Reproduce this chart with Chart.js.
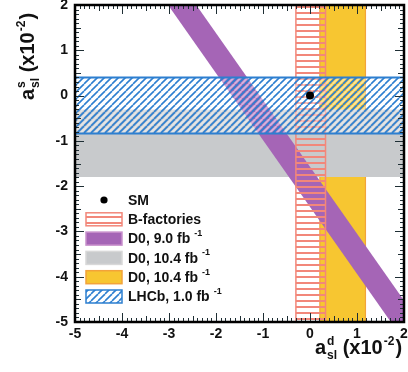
<!DOCTYPE html>
<html>
<head>
<meta charset="utf-8">
<script src="https://cdn.jsdelivr.net/npm/chart.js@4.4.1/dist/chart.umd.min.js"></script>
<style>
html, body { margin: 0; padding: 0; background: #fff; }
#caixa { width: 408px; height: 372px; position: relative; }
</style>
</head>
<body>
<div id="caixa"><canvas id="grafico"></canvas></div>
<script>
const eixoX = [-5, 2];
const eixoY = [-5, 2];
const smPonto = [{x: 0, y: 0}];
const bFactoriesX = [-0.30, 0.33];
const d0AmareloX = [0.21, 1.18];
const d0CinzaY = [-1.80, -0.31];
const lhcbY = [-0.84, 0.40];
// bordas da faixa roxa (D0 9.0 fb-1)
const d0RoxoEsq = [{x: -3.02, y: 2}, {x: 1.72, y: -5}];
const d0RoxoDir = [{x: -2.42, y: 2}, {x: 2.32, y: -5}];
const nomes = ['SM', 'B-factories', 'D0, 9.0 fb', 'D0, 10.4 fb', 'D0, 10.4 fb', 'LHCb, 1.0 fb'];
const expoentes = ['', '', '-1', '-1', '-1', '-1'];

const fonte = '"Liberation Sans", Arial, sans-serif';
const $grafico = document.getElementById('grafico');
const ctxBase = $grafico.getContext('2d');

function faixaVertical(x) {
    return [
        {x: x[0], y: eixoY[0]}, {x: x[0], y: eixoY[1]},
        {x: x[1], y: eixoY[1]}, {x: x[1], y: eixoY[0]},
        {x: x[0], y: eixoY[0]}
    ];
}

function faixaHorizontal(y) {
    return [
        {x: eixoX[0], y: y[0]}, {x: eixoX[0], y: y[1]},
        {x: eixoX[1], y: y[1]}, {x: eixoX[1], y: y[0]},
        {x: eixoX[0], y: y[0]}
    ];
}

function hachuraHorizontal(cor) {
    const c = document.createElement('canvas');
    c.width = 6; c.height = 6;
    const g = c.getContext('2d');
    g.fillStyle = cor;
    g.fillRect(0, 0, 6, 2);
    return ctxBase.createPattern(c, 'repeat');
}

function hachuraDiagonal(cor) {
    const n = 7;
    const c = document.createElement('canvas');
    c.width = n; c.height = n;
    const g = c.getContext('2d');
    g.lineWidth = 2;
    g.strokeStyle = 'rgba(255,255,255,0.5)';
    for (let k = -1; k <= 1; k++) {
        g.beginPath();
        g.moveTo(k * n + n / 2, n);
        g.lineTo(k * n + n / 2 + n, 0);
        g.stroke();
    }
    g.lineWidth = 1.6;
    g.strokeStyle = cor;
    for (let k = -1; k <= 1; k++) {
        g.beginPath();
        g.moveTo(k * n, n);
        g.lineTo(k * n + n, 0);
        g.stroke();
    }
    return ctxBase.createPattern(c, 'repeat');
}

const salmao = '#f2877a';
const azul = '#2d7fd0';

const moldura = {
    id: 'moldura',
    afterDatasetsDraw(chart) {
        const {ctx, chartArea: a, scales: {x, y}} = chart;
        ctx.save();
        ctx.strokeStyle = '#1e2e34';
        ctx.lineWidth = 1;
        ctx.beginPath();
        for (let i = eixoX[0] * 10; i <= eixoX[1] * 10; i++) {
            const px = Math.round(x.getPixelForValue(i / 10)) + 0.5;
            const len = i % 10 === 0 ? 9 : (Math.abs(i % 5) === 0 ? 6 : 4);
            ctx.moveTo(px, a.bottom); ctx.lineTo(px, a.bottom - len);
            ctx.moveTo(px, a.top); ctx.lineTo(px, a.top + len);
        }
        for (let i = eixoY[0] * 10; i <= eixoY[1] * 10; i++) {
            const py = Math.round(y.getPixelForValue(i / 10)) + 0.5;
            const len = i % 10 === 0 ? 9 : (Math.abs(i % 5) === 0 ? 6 : 4);
            ctx.moveTo(a.left, py); ctx.lineTo(a.left + len, py);
            ctx.moveTo(a.right, py); ctx.lineTo(a.right - len, py);
        }
        ctx.stroke();
        ctx.lineWidth = 2.5;
        ctx.strokeStyle = '#000';
        ctx.strokeRect(a.left, a.top, a.right - a.left, a.bottom - a.top);

        // legenda
        const ds = chart.data.datasets;
        ctx.textBaseline = 'middle';
        ctx.textAlign = 'left';
        for (let i = 0; i < ds.length; i++) {
            const cy = 200 + i * 19.3;
            const bx = 86, bw = 36, bh = 13;
            if (i === 0) {
                ctx.fillStyle = '#000';
                ctx.beginPath();
                ctx.arc(bx + bw / 2, cy, 3.6, 0, Math.PI * 2);
                ctx.fill();
            } else {
                ctx.fillStyle = '#fff';
                ctx.fillRect(bx, cy - bh / 2, bw, bh);
                ctx.fillStyle = ds[i].backgroundColor;
                ctx.fillRect(bx, cy - bh / 2, bw, bh);
                ctx.lineWidth = 1.5;
                ctx.strokeStyle = ds[i].borderWidth ? ds[i].borderColor : ds[i].legendBorda;
                ctx.strokeRect(bx, cy - bh / 2, bw, bh);
            }
            ctx.fillStyle = '#111';
            ctx.font = 'bold 14px ' + fonte;
            ctx.fillText(nomes[i], 128, cy + 1);
            if (expoentes[i]) {
                const w = ctx.measureText(nomes[i]).width;
                ctx.font = 'bold 9px ' + fonte;
                ctx.fillText(expoentes[i], 128 + w + 4, cy - 5);
            }
        }

        // titulos dos eixos
        tituloEixo(ctx, 315, 354, 'd');
        ctx.translate(34, 100);
        ctx.rotate(-Math.PI / 2);
        tituloEixo(ctx, 0, 0, 's');
        ctx.restore();
    }
};

function tituloEixo(ctx, x0, y0, sup) {
    ctx.save();
    ctx.fillStyle = '#111';
    ctx.textBaseline = 'alphabetic';
    ctx.textAlign = 'left';
    ctx.font = 'bold 20px ' + fonte;
    ctx.fillText('a', x0, y0);
    let w = ctx.measureText('a').width + 1;
    ctx.font = 'bold 12px ' + fonte;
    ctx.fillText(sup, x0 + w, y0 - 9);
    ctx.fillText('sl', x0 + w, y0 + 5);
    w += Math.max(ctx.measureText(sup).width, ctx.measureText('sl').width);
    ctx.font = 'bold 20px ' + fonte;
    ctx.fillText(' (x10', x0 + w, y0);
    w += ctx.measureText(' (x10').width + 1;
    ctx.font = 'bold 12px ' + fonte;
    ctx.fillText('-2', x0 + w, y0 - 9);
    w += ctx.measureText('-2').width + 1;
    ctx.font = 'bold 20px ' + fonte;
    ctx.fillText(')', x0 + w, y0);
    ctx.restore();
}

const graficoAssimetria = new Chart($grafico, {
    type: 'line',
    data: {
        datasets: [
            {
                label: nomes[0],
                data: smPonto,
                showLine: false,
                pointRadius: 4,
                pointBackgroundColor: '#000',
                pointBorderWidth: 0,
                order: 0
            },
            {
                label: nomes[1],
                data: faixaVertical(bFactoriesX),
                backgroundColor: hachuraHorizontal(salmao),
                borderColor: salmao,
                borderWidth: 1.5,
                fill: 'shape',
                pointRadius: 0,
                order: 2
            },
            {
                label: nomes[2],
                data: [...d0RoxoEsq, ...d0RoxoDir.slice().reverse(), d0RoxoEsq[0]],
                backgroundColor: '#a565b6',
                legendBorda: '#c890cc',
                borderWidth: 0,
                fill: 'shape',
                pointRadius: 0,
                order: 3
            },
            {
                label: nomes[3],
                data: faixaHorizontal(d0CinzaY),
                backgroundColor: '#c8cacc',
                legendBorda: '#d8d8d8',
                borderWidth: 0,
                fill: 'shape',
                pointRadius: 0,
                order: 4
            },
            {
                label: nomes[4],
                data: faixaVertical(d0AmareloX),
                backgroundColor: '#f7c631',
                borderColor: '#f2a33a',
                borderWidth: 1.2,
                fill: 'shape',
                pointRadius: 0,
                order: 5
            },
            {
                label: nomes[5],
                data: faixaHorizontal(lhcbY),
                backgroundColor: hachuraDiagonal(azul),
                borderColor: azul,
                borderWidth: 2,
                fill: 'shape',
                pointRadius: 0,
                order: 1
            }
        ]
    },
    options: {
        responsive: true,
        maintainAspectRatio: false,
        animation: false,
        layout: { padding: { top: 5, right: 1, left: 0, bottom: 0 } },
        plugins: { legend: { display: false }, tooltip: { enabled: false } },
        scales: {
            x: {
                type: 'linear',
                min: eixoX[0],
                max: eixoX[1],
                afterFit: (s) => { s.height = 50; s.paddingLeft = 0; s.paddingRight = 0; },
                grid: { display: false, drawTicks: false },
                border: { display: false },
                ticks: { stepSize: 1, padding: 4, color: '#111', font: { family: fonte, size: 14, weight: 'bold' } }
            },
            y: {
                type: 'linear',
                min: eixoY[0],
                max: eixoY[1],
                afterFit: (s) => { s.width = 75; s.paddingTop = 0; s.paddingBottom = 0; },
                grid: { display: false, drawTicks: false },
                border: { display: false },
                ticks: { stepSize: 1, padding: 7, color: '#111', font: { family: fonte, size: 14, weight: 'bold' } }
            }
        }
    },
    plugins: [moldura]
});
</script>
</body>
</html>
